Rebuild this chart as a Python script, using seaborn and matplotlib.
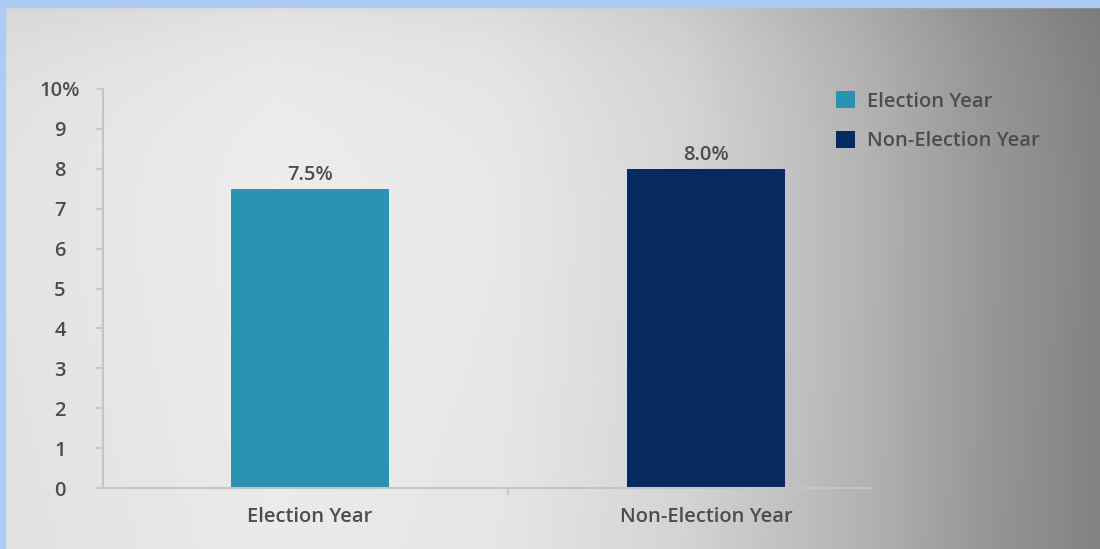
import numpy as np
import pandas as pd
import matplotlib
matplotlib.use("Agg")
import matplotlib.pyplot as plt
from matplotlib.patches import Patch, Rectangle
import seaborn as sns

categories = ["Election Year", "Non-Election Year"]
values = [7.5, 8.0]
value_labels = ["7.5%", "8.0%"]
colors = ["#2894b2", "#06295e"]
yticks = list(range(0, 11))
ytick_labels = ["0", "1", "2", "3", "4", "5", "6", "7", "8", "9", "10%"]

sns.set_theme(style="white")
plt.rcParams["font.family"] = ["Open Sans", "DejaVu Sans"]

W, H = 1100, 549
fig = plt.figure(figsize=(W / 100, H / 100), dpi=100)

# background gradient
bg = fig.add_axes([0, 0, 1, 1], zorder=-2)
xs = np.linspace(0, 1, 400)
ys = np.linspace(0, 1, 200)
prof = np.interp(xs, [0, 0.25, 0.45, 0.62, 0.78, 0.9, 1.0],
                 [0.90, 0.94, 0.92, 0.85, 0.72, 0.60, 0.52])
vert = 1 - 0.07 * np.exp(-ys / 0.12) - 0.02 * ys
grad = np.outer(vert, prof)
bg.imshow(np.dstack([grad, grad, grad]), aspect="auto", extent=[0, 1, 0, 1],
          origin="upper", interpolation="bilinear")
bg.axis("off")

# blue frame
fig.patches.append(Rectangle((0, 1 - 7 / H), 1, 7 / H, transform=fig.transFigure,
                             color="#aecbf2", zorder=5))
fig.patches.append(Rectangle((0, 0), 5 / W, 1, transform=fig.transFigure,
                             color="#aecbf2", zorder=5))

ax = fig.add_axes([103 / W, 1 - 488 / H, (870 - 103) / W, (488 - 89) / H])
ax.set_facecolor("none")

df = pd.DataFrame({"cat": categories, "val": values})
sns.barplot(data=df, x="cat", y="val", hue="cat", palette=colors, width=0.4,
            ax=ax, legend=False, saturation=1, linewidth=0, edgecolor="none")

for cont, lab in zip(ax.containers, value_labels):
    ax.bar_label(cont, labels=[lab], padding=3, fontsize=14.5, color="#4d4d4d",
                 fontweight="semibold")

ax.set_xlim(-0.523, 1.414)
ax.set_ylim(0, 10)
ax.set_yticks(yticks)
ax.set_yticklabels(ytick_labels)
ax.set_xlabel("")
ax.set_ylabel("")

for s in ["top", "right"]:
    ax.spines[s].set_visible(False)
for s in ["left", "bottom"]:
    ax.spines[s].set_color("#c4c4c4")
    ax.spines[s].set_linewidth(1.5)

ax.tick_params(axis="y", length=5, width=1.2, color="#c4c4c4", direction="out",
               pad=26, labelsize=14.5, labelcolor="#4d4d4d", left=True)
for t in ax.get_yticklabels():
    t.set_horizontalalignment("center")
    t.set_fontweight("semibold")
ax.tick_params(axis="x", length=0, pad=14, labelsize=14.5, labelcolor="#4d4d4d")
for t in ax.get_xticklabels():
    t.set_fontweight("semibold")
ax.set_xticks([0.5], minor=True)
ax.tick_params(axis="x", which="minor", length=5, width=1.2, color="#c4c4c4",
               direction="out", bottom=True)

handles = [Patch(facecolor=c, edgecolor="none") for c in colors]
leg = fig.legend(handles, categories, loc="upper left",
                 bbox_to_anchor=(836 / W, 1 - 91 / H), frameon=False,
                 fontsize=14.5, handlelength=0.95, handleheight=0.95,
                 handletextpad=0.6, labelspacing=0.95, borderpad=0,
                 borderaxespad=0)
for t in leg.get_texts():
    t.set_color("#4d4d4d")
    t.set_fontweight("semibold")

fig.savefig("out.png", dpi=100)
